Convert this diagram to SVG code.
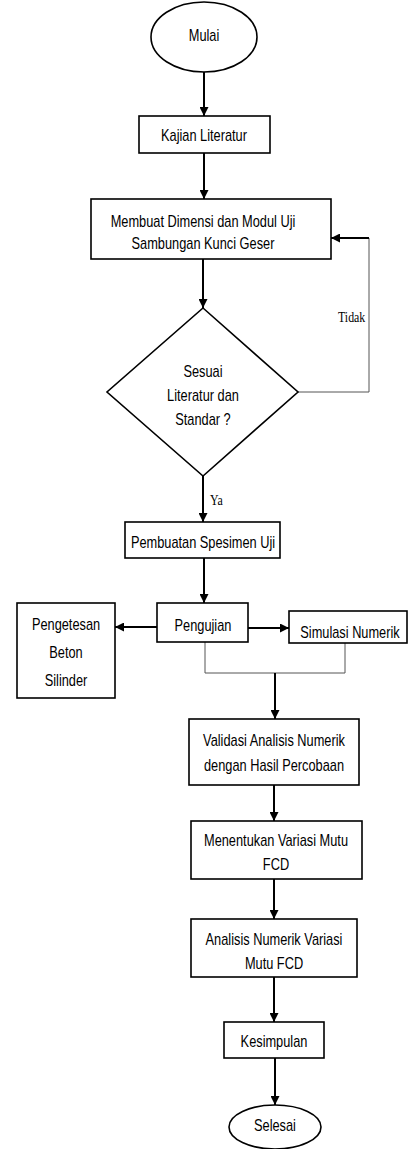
<svg xmlns="http://www.w3.org/2000/svg" width="409" height="1149" viewBox="0 0 409 1149">
<style>
.n{fill:#fff;stroke:#000;stroke-width:1.6}
.t{font-family:"Liberation Sans",Arial,sans-serif;font-size:16px;fill:#000;text-anchor:middle}
.s{font-family:"Liberation Serif","Times New Roman",serif;font-size:14.5px;fill:#000;text-anchor:start}
.c{fill:none;stroke:#000;stroke-width:2}
.thin{fill:none;stroke:#555;stroke-width:1}
</style>
<defs>
<marker id="ah" markerUnits="userSpaceOnUse" markerWidth="9" markerHeight="9" refX="9" refY="4.5" orient="auto">
<path d="M0,0 L9,4.5 L0,9 z" fill="#000"/>
</marker>
</defs>
<rect width="409" height="1149" fill="#fff"/>
<g id="connectors">
<line class="c" x1="204" y1="72" x2="204" y2="116" marker-end="url(#ah)"/>
<line class="c" x1="204" y1="153" x2="204" y2="199" marker-end="url(#ah)"/>
<line class="c" x1="203" y1="259" x2="203" y2="308" marker-end="url(#ah)"/>
<polyline class="thin" points="298,392 369,392 369,238"/>
<line class="c" x1="369" y1="238" x2="331" y2="238" marker-end="url(#ah)"/>
<line class="c" x1="203" y1="476" x2="203" y2="522" marker-end="url(#ah)"/>
<line class="c" x1="204" y1="558" x2="204" y2="603" marker-end="url(#ah)"/>
<line class="c" x1="157" y1="627" x2="115" y2="627" marker-end="url(#ah)"/>
<line class="c" x1="248" y1="628" x2="289" y2="628" marker-end="url(#ah)"/>
<polyline class="thin" points="205,642 205,673 345,673 345,643"/>
<line class="c" x1="275" y1="673" x2="275" y2="719" marker-end="url(#ah)"/>
<line class="c" x1="274" y1="785" x2="274" y2="821" marker-end="url(#ah)"/>
<line class="c" x1="274" y1="879" x2="274" y2="919" marker-end="url(#ah)"/>
<line class="c" x1="274" y1="977" x2="274" y2="1022" marker-end="url(#ah)"/>
<line class="c" x1="275" y1="1058" x2="275" y2="1105" marker-end="url(#ah)"/>
<text class="s" transform="translate(338,322) scale(0.82,1)">Tidak</text>
<text class="s" transform="translate(210,505) scale(0.82,1)">Ya</text>
</g>
<g id="mulai">
<ellipse class="n" cx="204" cy="37" rx="53" ry="35"/>
<text class="t" transform="translate(204,41) scale(0.8,1)">Mulai</text>
</g>
<g id="kajian">
<rect class="n" x="139" y="116" width="131" height="37"/>
<text class="t" transform="translate(204,141) scale(0.8,1)">Kajian Literatur</text>
</g>
<g id="membuat">
<rect class="n" x="91" y="199" width="240" height="60"/>
<text class="t" transform="translate(203,227) scale(0.8,1)">Membuat Dimensi dan Modul Uji</text>
<text class="t" transform="translate(203,248.5) scale(0.8,1)">Sambungan Kunci Geser</text>
</g>
<g id="sesuai">
<polygon class="n" points="203,308 298,392 203,476 107,392"/>
<text class="t" transform="translate(203,376.5) scale(0.8,1)">Sesuai</text>
<text class="t" transform="translate(203,400.5) scale(0.8,1)">Literatur dan</text>
<text class="t" transform="translate(203,424.5) scale(0.8,1)">Standar ?</text>
</g>
<g id="pembuatan">
<rect class="n" x="125" y="522" width="155" height="36"/>
<text class="t" transform="translate(203,547.5) scale(0.8,1)">Pembuatan Spesimen Uji</text>
</g>
<g id="pengujian">
<rect class="n" x="157" y="603" width="91" height="39"/>
<text class="t" transform="translate(203,631) scale(0.8,1)">Pengujian</text>
</g>
<g id="pengetesan">
<rect class="n" x="17" y="603" width="98" height="95"/>
<text class="t" transform="translate(66,629.5) scale(0.8,1)">Pengetesan</text>
<text class="t" transform="translate(66,657.5) scale(0.8,1)">Beton</text>
<text class="t" transform="translate(66,685.5) scale(0.8,1)">Silinder</text>
</g>
<g id="simulasi">
<rect class="n" x="289" y="611" width="118" height="32"/>
<text class="t" transform="translate(350,638) scale(0.8,1)">Simulasi Numerik</text>
</g>
<g id="validasi">
<rect class="n" x="189" y="719" width="170" height="66"/>
<text class="t" transform="translate(274,746) scale(0.8,1)">Validasi Analisis Numerik</text>
<text class="t" transform="translate(274,771) scale(0.8,1)">dengan Hasil Percobaan</text>
</g>
<g id="menentukan">
<rect class="n" x="191" y="821" width="171" height="58"/>
<text class="t" transform="translate(276,846) scale(0.8,1)">Menentukan Variasi Mutu</text>
<text class="t" transform="translate(276,869.5) scale(0.8,1)">FCD</text>
</g>
<g id="analisis">
<rect class="n" x="191" y="919" width="166" height="58"/>
<text class="t" transform="translate(274,945) scale(0.8,1)">Analisis Numerik Variasi</text>
<text class="t" transform="translate(274,968.5) scale(0.8,1)">Mutu FCD</text>
</g>
<g id="kesimpulan">
<rect class="n" x="224" y="1022" width="100" height="36"/>
<text class="t" transform="translate(274,1046.5) scale(0.8,1)">Kesimpulan</text>
</g>
<g id="selesai">
<ellipse class="n" cx="275" cy="1127" rx="46" ry="22"/>
<text class="t" transform="translate(275,1130.5) scale(0.8,1)">Selesai</text>
</g>
</svg>
